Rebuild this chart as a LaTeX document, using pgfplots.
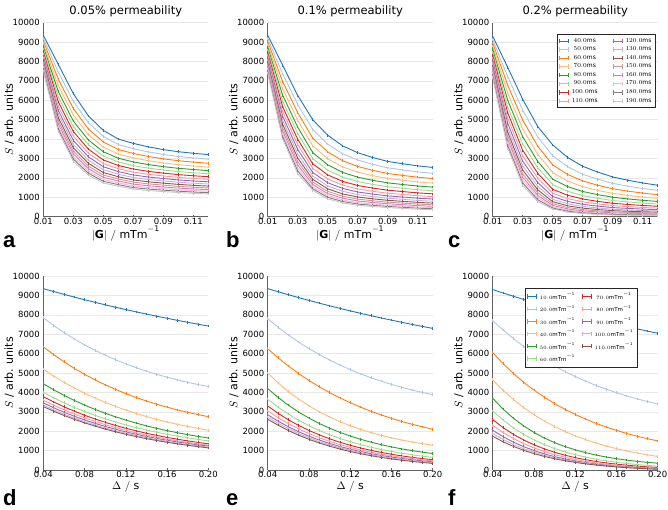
\documentclass[border=0pt]{standalone}
\usepackage{fontspec}
\setmainfont{DejaVu Sans}
\newfontfamily\letterfont{Liberation Sans}
\usepackage{pgfplots}
\usepackage{pgfplotstable}
\pgfplotsset{compat=1.18}

\definecolor{t1}{HTML}{1F77B4}
\definecolor{t2}{HTML}{AEC7E8}
\definecolor{t3}{HTML}{FF7F0E}
\definecolor{t4}{HTML}{FFBB78}
\definecolor{t5}{HTML}{2CA02C}
\definecolor{t6}{HTML}{98DF8A}
\definecolor{t7}{HTML}{D62728}
\definecolor{t8}{HTML}{FF9896}
\definecolor{t9}{HTML}{9467BD}
\definecolor{t10}{HTML}{C5B0D5}
\definecolor{t11}{HTML}{8C564B}
\definecolor{t12}{HTML}{C49C94}
\definecolor{t13}{HTML}{E377C2}
\definecolor{t14}{HTML}{F7B6D2}
\definecolor{t15}{HTML}{7F7F7F}
\definecolor{t16}{HTML}{C7C7C7}

% rows: Delta / s ; columns: |G| (0.01 ... 0.12)
% 0.05% permeability
\pgfplotstableread{
D    0.01 0.02 0.03 0.04 0.05 0.06 0.07 0.08 0.09 0.10 0.11 0.12
0.04 9350 7850 6350 5200 4450 4000 3780 3600 3460 3350 3270 3200
0.05 9200 7452 5947 4847 4136 3720 3508 3340 3210 3107 3031 2966
0.06 9055 7090 5580 4526 3851 3465 3260 3104 2983 2886 2814 2753
0.07 8914 6757 5241 4230 3588 3230 3032 2885 2773 2682 2614 2556
0.08 8777 6451 4932 3959 3347 3015 2823 2686 2581 2495 2431 2377
0.09 8645 6174 4651 3713 3128 2820 2633 2505 2407 2326 2265 2214
0.10 8516 5919 4392 3486 2927 2640 2458 2338 2247 2170 2111 2063
0.11 8391 5684 4154 3278 2742 2475 2298 2185 2100 2026 1971 1925
0.12 8270 5471 3938 3089 2574 2325 2152 2046 1966 1896 1843 1800
0.13 8152 5276 3740 2916 2420 2187 2018 1918 1843 1777 1726 1685
0.14 8038 5095 3556 2756 2277 2060 1894 1800 1730 1666 1617 1578
0.15 7927 4932 3391 2611 2148 1945 1783 1693 1627 1566 1519 1482
0.16 7820 4783 3240 2478 2031 1840 1680 1596 1533 1475 1430 1394
0.17 7715 4644 3099 2356 1922 1742 1586 1505 1446 1390 1347 1313
0.18 7614 4520 2973 2245 1824 1655 1501 1424 1368 1315 1272 1240
0.19 7515 4406 2858 2144 1734 1575 1423 1350 1297 1245 1204 1173
0.20 7420 4300 2750 2050 1650 1500 1350 1280 1230 1180 1140 1110
}\Pa
% 0.1% permeability
\pgfplotstableread{
D    0.01 0.02 0.03 0.04 0.05 0.06 0.07 0.08 0.09 0.10 0.11 0.12
0.04 9350 7800 6250 5000 4200 3650 3300 3050 2850 2730 2620 2540
0.05 9191 7361 5785 4494 3745 3242 2924 2699 2520 2411 2310 2237
0.06 9037 6961 5362 4048 3343 2882 2591 2390 2228 2129 2037 1969
0.07 8887 6593 4972 3654 2988 2565 2298 2117 1971 1880 1795 1733
0.08 8742 6256 4615 3307 2675 2284 2039 1876 1744 1660 1582 1525
0.09 8601 5950 4291 3000 2399 2037 1811 1663 1544 1467 1394 1341
0.10 8464 5668 3992 2730 2155 1819 1609 1475 1367 1296 1229 1179
0.11 8332 5409 3718 2491 1941 1627 1432 1310 1211 1145 1082 1036
0.12 8202 5174 3469 2281 1751 1457 1275 1164 1074 1012 953  910
0.13 8078 4958 3241 2095 1584 1308 1137 1036 953  895  840  799
0.14 7956 4758 3030 1931 1436 1175 1015 921  845  791  739  700
0.15 7839 4578 2839 1786 1306 1058 907  821  750  700  650  613
0.16 7725 4413 2664 1658 1190 955  811  732  667  619  572  537
0.17 7614 4260 2503 1545 1089 864  727  654  593  548  503  469
0.18 7506 4123 2357 1445 999  783  653  585  528  484  441  409
0.19 7401 3998 2224 1357 920  712  588  524  471  429  387  356
0.20 7300 3880 2100 1280 850  650  530  470  420  380  340  310
}\Pb
% 0.2% permeability
\pgfplotstableread{
D    0.01 0.02 0.03 0.04 0.05 0.06 0.07 0.08 0.09 0.10 0.11 0.12
0.04 9300 7700 6050 4650 3700 3050 2600 2300 2050 1880 1740 1620
0.05 9125 7218 5486 4113 3142 2575 2189 1932 1719 1575 1457 1356
0.06 8956 6780 4981 3639 2672 2175 1842 1622 1439 1318 1218 1133
0.07 8792 6376 4526 3221 2274 1836 1548 1359 1203 1101 1016 945
0.08 8632 6006 4118 2852 1937 1550 1300 1137 1003 917  845  786
0.09 8478 5670 3753 2527 1653 1309 1091 950  834  762  701  652
0.10 8328 5361 3424 2239 1413 1104 914  791  691  631  579  538
0.11 8182 5077 3128 1986 1211 933  765  658  572  520  477  443
0.12 8040 4819 2863 1763 1041 788  639  546  470  427  391  362
0.13 7903 4582 2624 1566 896  665  533  450  384  348  317  293
0.14 7770 4363 2408 1391 773  560  442  369  312  281  255  235
0.15 7641 4165 2214 1237 670  472  366  301  250  225  203  187
0.16 7516 3985 2041 1101 583  398  302  244  198  177  158  145
0.17 7394 3817 1883 982  510  336  248  195  155  137  121  111
0.18 7276 3667 1742 875  447  283  202  154  118  103  89   81
0.19 7161 3529 1616 782  395  238  163  120  87   75   63   56
0.20 7050 3400 1500 700  350  200  130  90   60   50   40   35
}\Pc
\pgfplotstabletranspose[colnames from=D,input colnames to=G]\Ta{\Pa}
\pgfplotstabletranspose[colnames from=D,input colnames to=G]\Tb{\Pb}
\pgfplotstabletranspose[colnames from=D,input colnames to=G]\Tc{\Pc}

\pgfplotsset{
  panel/.style={
    scale only axis, width=165pt, height=194pt, anchor=north west,
    ymin=0, ymax=10000, ytick={0,1000,...,10000},
    scaled x ticks=false, scaled y ticks=false,
    axis x line*=bottom, axis y line*=left,
    axis line style={-, draw=black!62, line width=1pt},
    ymajorgrids, grid style={black!9, line width=0.6pt},
    major tick length=2pt,
    xtick style={draw=black!62, line width=0.6pt},
    ytick style={draw=none},
    tick label style={font=\fontsize{8.5}{10}\selectfont},
    yticklabel style={/pgf/number format/.cd, fixed, 1000 sep={}, assume math mode=true},
    xticklabel style={yshift=2.5pt, /pgf/number format/.cd, fixed, fixed zerofill, precision=2, assume math mode=true},
    ylabel={$S$ / arb. units},
    ylabel style={at={(axis description cs:-0.206,0.5)}, anchor=center, font=\fontsize{11}{13}\selectfont},
    xlabel style={at={(axis description cs:0.5,-0.088)}, anchor=center, font=\fontsize{11}{13}\selectfont},
    every axis title shift=0pt,
    title style={at={(axis description cs:0.5,1.04)}, anchor=base, font=\fontsize{11.5}{13}\selectfont},
    every axis plot/.append style={line width=0.9pt, mark=|, mark size=1.3pt, mark options={solid, line width=0.6pt}},
    legend image code/.code={
      \draw[#1, line width=0.8pt] (0pt,0pt) -- (9pt,0pt);
      \draw[#1, line width=0.8pt] (0pt,-2.2pt) -- (0pt,2.2pt);
      \draw[#1, line width=0.8pt] (9pt,-2.2pt) -- (9pt,2.2pt);
    },
    legend style={font=\fontsize{6}{6.5}\selectfont, draw=black!85, line width=0.6pt,
      fill=white, inner sep=2pt, row sep=-0.8pt,
      /tikz/every odd column/.append style={column sep=1pt},
      /tikz/every even column/.append style={column sep=13pt}},
  },
  toprow/.style={panel, xmin=0.01, xmax=0.12, xtick={0.01,0.03,...,0.11},
    xlabel={$|\mathbf{G}|\ /\ \mathrm{mTm^{-1}}$}},
  botrow/.style={panel, xmin=0.04, xmax=0.20, xtick={0.04,0.08,0.12,0.16,0.20},
    xlabel={$\Delta\ /\ \mathrm{s}$}},
}

\newcommand\topseries[1]{%
 \addplot[t1]  table[x=G,y=0.04]{#1};
 \addplot[t2]  table[x=G,y=0.05]{#1};
 \addplot[t3]  table[x=G,y=0.06]{#1};
 \addplot[t4]  table[x=G,y=0.07]{#1};
 \addplot[t5]  table[x=G,y=0.08]{#1};
 \addplot[t6]  table[x=G,y=0.09]{#1};
 \addplot[t7]  table[x=G,y=0.10]{#1};
 \addplot[t8]  table[x=G,y=0.11]{#1};
 \addplot[t9]  table[x=G,y=0.12]{#1};
 \addplot[t10] table[x=G,y=0.13]{#1};
 \addplot[t11] table[x=G,y=0.14]{#1};
 \addplot[t12] table[x=G,y=0.15]{#1};
 \addplot[t13] table[x=G,y=0.16]{#1};
 \addplot[t14] table[x=G,y=0.17]{#1};
 \addplot[t15] table[x=G,y=0.18]{#1};
 \addplot[t16] table[x=G,y=0.19]{#1};
}
\newcommand\botseries[1]{%
 \addplot[t1]  table[x=D,y=0.01]{#1};
 \addplot[t2]  table[x=D,y=0.02]{#1};
 \addplot[t3]  table[x=D,y=0.03]{#1};
 \addplot[t4]  table[x=D,y=0.04]{#1};
 \addplot[t5]  table[x=D,y=0.05]{#1};
 \addplot[t6]  table[x=D,y=0.06]{#1};
 \addplot[t7]  table[x=D,y=0.07]{#1};
 \addplot[t8]  table[x=D,y=0.08]{#1};
 \addplot[t9]  table[x=D,y=0.09]{#1};
 \addplot[t10] table[x=D,y=0.10]{#1};
 \addplot[t11] table[x=D,y=0.11]{#1};
}

\begin{document}
\begin{tikzpicture}
\begin{axis}[toprow, at={(43.3pt,-22.7pt)}, title={0.05\% permeability}]
\topseries{\Ta}
\end{axis}
\begin{axis}[toprow, at={(267.7pt,-22.7pt)}, title={0.1\% permeability}]
\topseries{\Tb}
\end{axis}
\begin{axis}[toprow, at={(492.7pt,-22.7pt)}, title={0.2\% permeability},
  legend columns=8, transpose legend,
  legend style={at={(axis description cs:0.988,0.942)}, anchor=north east}]
\topseries{\Tc}
\legend{$40.0\mathrm{ms}$,$50.0\mathrm{ms}$,$60.0\mathrm{ms}$,$70.0\mathrm{ms}$,$80.0\mathrm{ms}$,$90.0\mathrm{ms}$,$100.0\mathrm{ms}$,$110.0\mathrm{ms}$,$120.0\mathrm{ms}$,$130.0\mathrm{ms}$,$140.0\mathrm{ms}$,$150.0\mathrm{ms}$,$160.0\mathrm{ms}$,$170.0\mathrm{ms}$,$180.0\mathrm{ms}$,$190.0\mathrm{ms}$}
\end{axis}
\begin{axis}[botrow, at={(43.3pt,-276pt)}]
\botseries{\Pa}
\end{axis}
\begin{axis}[botrow, at={(267.7pt,-276pt)}]
\botseries{\Pb}
\end{axis}
\begin{axis}[botrow, at={(492.7pt,-276pt)},
  legend columns=6, transpose legend,
  legend style={at={(axis description cs:0.195,0.938)}, anchor=north west,
    font=\fontsize{5.5}{6}\selectfont, row sep=-0.3pt,
    /tikz/every even column/.append style={column sep=5pt}}]
\botseries{\Pc}
\legend{$10.0\mathrm{mTm^{-1}}$,$20.0\mathrm{mTm^{-1}}$,$30.0\mathrm{mTm^{-1}}$,$40.0\mathrm{mTm^{-1}}$,$50.0\mathrm{mTm^{-1}}$,$60.0\mathrm{mTm^{-1}}$,$70.0\mathrm{mTm^{-1}}$,$80.0\mathrm{mTm^{-1}}$,$90.0\mathrm{mTm^{-1}}$,$100.0\mathrm{mTm^{-1}}$,$110.0\mathrm{mTm^{-1}}$}
\end{axis}
\node[anchor=base west, inner sep=0pt, font=\letterfont\bfseries\fontsize{22}{22}\selectfont] at (3pt,-247pt) {a};
\node[anchor=base west, inner sep=0pt, font=\letterfont\bfseries\fontsize{22}{22}\selectfont] at (226pt,-247pt) {b};
\node[anchor=base west, inner sep=0pt, font=\letterfont\bfseries\fontsize{22}{22}\selectfont] at (448pt,-247pt) {c};
\node[anchor=base west, inner sep=0pt, font=\letterfont\bfseries\fontsize{22}{22}\selectfont] at (3pt,-505pt) {d};
\node[anchor=base west, inner sep=0pt, font=\letterfont\bfseries\fontsize{22}{22}\selectfont] at (226pt,-505pt) {e};
\node[anchor=base west, inner sep=0pt, font=\letterfont\bfseries\fontsize{22}{22}\selectfont] at (448pt,-505pt) {f};
\pgfresetboundingbox
\path (0pt,0pt) rectangle (668pt,-509pt);
\end{tikzpicture}
\end{document}
